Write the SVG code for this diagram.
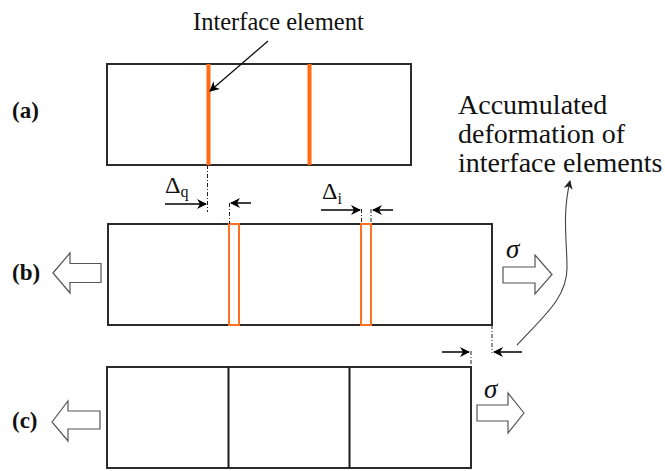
<svg xmlns="http://www.w3.org/2000/svg" width="665" height="471" viewBox="0 0 665 471">
<defs>
<style>
.box{fill:#fff;stroke:#2b2b2b;stroke-width:2}
.div{stroke:#1a1a1a;stroke-width:2}
.ie{stroke:#ff6a13;stroke-width:4}
.ier{fill:none;stroke:#ff7020;stroke-width:2}
.blk{fill:#fff;stroke:#555;stroke-width:1.2}
.dd{stroke:#222;stroke-width:1;stroke-dasharray:4 2 1 2;fill:none}
.ar{stroke:#000;stroke-width:1.5;fill:none}
text{font-family:'Liberation Serif','Times New Roman',Tinos,'DejaVu Serif',serif}
.lbl{font-weight:bold;font-size:23px;fill:#111}
.txt{fill:#111}
.sig{font-style:italic;font-size:27px;fill:#111}
</style>
<marker id="ah" viewBox="0 0 10 10" refX="9" refY="5" markerWidth="10" markerHeight="10" markerUnits="userSpaceOnUse" orient="auto"><path d="M0,0 L10,5 L0,10 L3,5 Z" fill="#000"/></marker>
<marker id="ahs" viewBox="0 0 10 10" refX="9" refY="5" markerWidth="9" markerHeight="9" markerUnits="userSpaceOnUse" orient="auto"><path d="M0,0 L10,5 L0,10 L3,5 Z" fill="#222"/></marker>
</defs>

<g id="label-a"><text class="lbl" x="12" y="118">(a)</text></g>
<g id="label-b"><text class="lbl" x="12" y="280">(b)</text></g>
<g id="label-c"><text class="lbl" x="12" y="428">(c)</text></g>

<g id="bar-a">
<rect class="box" x="107" y="64" width="304" height="101"/>
<line class="ie" x1="208.5" y1="64" x2="208.5" y2="165"/>
<line class="ie" x1="309.5" y1="64" x2="309.5" y2="165"/>
</g>

<g id="bar-b">
<rect class="box" x="108" y="224" width="384" height="101"/>
<rect class="ier" x="229" y="224" width="10" height="101"/>
<rect class="ier" x="361" y="224" width="10" height="101"/>
</g>

<g id="bar-c">
<rect class="box" x="107" y="367" width="364" height="101"/>
<line class="div" x1="228.5" y1="367" x2="228.5" y2="468"/>
<line class="div" x1="349.5" y1="367" x2="349.5" y2="468"/>
</g>

<g id="load-arrows">
<polygon class="blk" points="53,273 70,253 70,263.5 101,263.5 101,282.5 70,282.5 70,293"/>
<polygon class="blk" points="552,274.5 535,255 535,267 503,267 503,283 535,283 535,294"/>
<polygon class="blk" points="52,422 68,401 68,411 100,411 100,429 68,429 68,441"/>
<polygon class="blk" points="524,413 508,393 508,405 477,405 477,421 508,421 508,433"/>
<text class="sig" x="506" y="258">σ</text>
<text class="sig" x="484" y="398">σ</text>
</g>

<g id="title-interface"><text class="txt" font-size="24.5" x="193" y="30">Interface element</text></g>
<g id="title-accumulated">
<text class="txt" font-size="28" x="458" y="114">Accumulated</text>
<text class="txt" font-size="28" x="458" y="143">deformation of</text>
<text class="txt" font-size="28" x="458" y="172">interface elements</text>
</g>

<g id="dim-q">
<text class="txt" font-size="24" x="165" y="193">Δ<tspan font-size="16" dy="4">q</tspan></text>
</g>
<g id="dim-i">
<text class="txt" font-size="24" x="322" y="199">Δ<tspan font-size="16" dy="5">i</tspan></text>
</g>

<g id="connectors">
<line x1="268" y1="41" x2="210" y2="91" stroke="#111" stroke-width="1.3" marker-end="url(#ah)"/>
<line class="dd" x1="207.5" y1="165" x2="207.5" y2="212"/>
<line class="dd" x1="229.5" y1="203" x2="229.5" y2="224"/>
<line class="ar" x1="165" y1="204" x2="206" y2="204" marker-end="url(#ah)"/>
<line class="ar" x1="251" y1="203" x2="231" y2="203" marker-end="url(#ah)"/>
<line class="dd" x1="361.5" y1="209" x2="361.5" y2="224" stroke="#777"/>
<line class="dd" x1="371" y1="209" x2="371" y2="224" stroke="#777"/>
<line class="ar" x1="321" y1="210" x2="360" y2="210" marker-end="url(#ah)"/>
<line class="ar" x1="393" y1="210" x2="373" y2="210" marker-end="url(#ah)"/>
<line class="dd" x1="492" y1="325" x2="492" y2="353"/>
<line class="dd" x1="471" y1="351" x2="471" y2="367"/>
<line class="ar" x1="442" y1="352" x2="469" y2="352" marker-end="url(#ah)"/>
<line class="ar" x1="522" y1="352" x2="494" y2="352" marker-end="url(#ah)"/>
<path d="M517,345 C545,315 567,297 567,268 C567,240 562,215 570,181" fill="none" stroke="#444" stroke-width="1.1" marker-end="url(#ahs)"/>
</g>
</svg>
